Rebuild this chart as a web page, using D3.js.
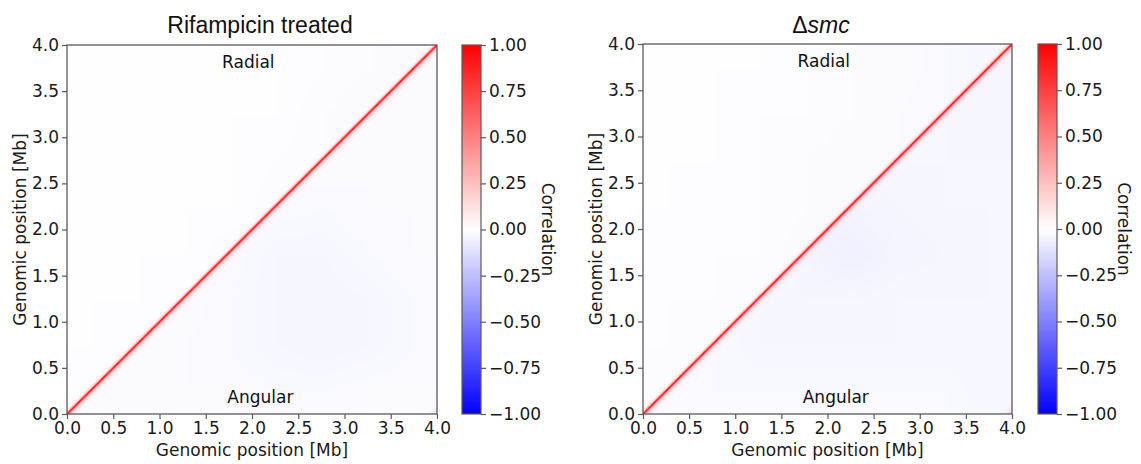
<!DOCTYPE html>
<html><head><meta charset="utf-8">
<script src="https://cdn.jsdelivr.net/npm/d3@7"></script>
<style>body{margin:0;background:#fff;} svg{display:block}</style>
</head><body>
<svg id="chart" width="1141" height="464"></svg>
<script>
// ---------- data ----------
const panelTitles = ["Rifampicin treated", "smc"];
const axisTicks = [0, 0.5, 1.0, 1.5, 2.0, 2.5, 3.0, 3.5, 4.0];
const cbTicks = [-1, -0.75, -0.5, -0.25, 0, 0.25, 0.5, 0.75, 1];
const genomeLength = 4.0;   // Mb
const binSize = 0.01;       // Mb per matrix bin

// correlation vs genomic separation (0.01 Mb steps)
const diagRadial  = [1.0, 0.66, 0.30, 0.14, 0.07, 0.04, 0.02, 0.01, 0];
const diagAngular = [1.0, 0.72, 0.40, 0.24, 0.16, 0.11, 0.08, 0.06, 0.045, 0.03, 0.02, 0.012, 0.006, 0];
// faint correlation across the origin (circular chromosome), 0.02 Mb steps
const wrapRifAngular = [0.16, 0.12, 0.08, 0.05, 0.03, 0.015, 0.006, 0];
const wrapRifRadial  = [0.0];
const wrapSmcAngular = [0.18, 0.13, 0.09, 0.06, 0.035, 0.018, 0.008, 0];
const wrapSmcRadial  = [0.06, 0.04, 0.02, 0.01, 0];

// background correlation per 0.5 Mb block: rows = y block (0..3.5 Mb), cols = x block
const rifAngular = [
  [-0.012,-0.015,-0.020,-0.020,-0.025,-0.025,-0.020,-0.020],
  [-0.010,-0.012,-0.020,-0.025,-0.030,-0.035,-0.030,-0.025],
  [-0.010,-0.012,-0.015,-0.025,-0.030,-0.035,-0.030,-0.025],
  [-0.010,-0.012,-0.015,-0.020,-0.030,-0.030,-0.025,-0.020],
  [-0.010,-0.012,-0.015,-0.018,-0.020,-0.025,-0.020,-0.020],
  [-0.010,-0.012,-0.015,-0.018,-0.018,-0.015,-0.020,-0.020],
  [-0.010,-0.012,-0.015,-0.018,-0.018,-0.015,-0.015,-0.020],
  [-0.010,-0.012,-0.015,-0.018,-0.018,-0.015,-0.015,-0.015]
];
const rifRadial = [
  [-0.008,-0.006,-0.005,-0.005,-0.005,-0.005,-0.005,-0.005],
  [-0.005,-0.008,-0.006,-0.005,-0.005,-0.005,-0.005,-0.005],
  [-0.005,-0.005,-0.008,-0.008,-0.006,-0.005,-0.005,-0.005],
  [-0.005,-0.005,-0.005,-0.010,-0.008,-0.006,-0.005,-0.005],
  [-0.005,-0.005,-0.005,-0.005,-0.010,-0.010,-0.008,-0.008],
  [-0.005,-0.005,-0.005,-0.005,-0.008,-0.012,-0.012,-0.012],
  [-0.005,-0.005,-0.005,-0.005,-0.005,-0.010,-0.015,-0.018],
  [-0.003,-0.003,-0.003,-0.005,-0.005,-0.008,-0.012,-0.020]
];
const smcAngular = [
  [-0.020,-0.025,-0.025,-0.025,-0.025,-0.025,-0.025,-0.030],
  [-0.020,-0.025,-0.030,-0.030,-0.030,-0.030,-0.030,-0.030],
  [-0.020,-0.025,-0.030,-0.035,-0.035,-0.030,-0.030,-0.030],
  [-0.020,-0.025,-0.030,-0.040,-0.055,-0.040,-0.035,-0.030],
  [-0.020,-0.025,-0.030,-0.040,-0.040,-0.035,-0.030,-0.030],
  [-0.020,-0.025,-0.030,-0.035,-0.035,-0.030,-0.030,-0.030],
  [-0.020,-0.025,-0.030,-0.030,-0.030,-0.030,-0.030,-0.035],
  [-0.020,-0.025,-0.030,-0.030,-0.030,-0.030,-0.030,-0.035]
];
const smcRadial = [
  [-0.010,-0.008,-0.006,-0.006,-0.006,-0.006,-0.006,-0.006],
  [-0.006,-0.010,-0.008,-0.006,-0.006,-0.006,-0.006,-0.006],
  [-0.006,-0.006,-0.012,-0.010,-0.008,-0.008,-0.008,-0.008],
  [-0.006,-0.006,-0.008,-0.015,-0.015,-0.012,-0.010,-0.010],
  [-0.005,-0.006,-0.008,-0.010,-0.018,-0.018,-0.015,-0.015],
  [-0.005,-0.005,-0.006,-0.010,-0.015,-0.020,-0.020,-0.022],
  [-0.004,-0.005,-0.006,-0.008,-0.012,-0.018,-0.025,-0.030],
  [-0.004,-0.004,-0.005,-0.006,-0.010,-0.015,-0.025,-0.030]
];

const panelData = [
  {radial: rifRadial, angular: rifAngular, wrapR: wrapRifRadial, wrapA: wrapRifAngular},
  {radial: smcRadial, angular: smcAngular, wrapR: wrapSmcRadial, wrapA: wrapSmcAngular}
];

// ---------- layout ----------
const layouts = [
  {x0: 67,  x1: 437,  yTop: 45, yBot: 414, cb0: 462,  cb1: 481,  titleX: 260},
  {x0: 643, x1: 1012, yTop: 44, yBot: 414, cb0: 1038, cb1: 1057, titleX: 821}
];

const svg = d3.select("#chart");
const FONT = "DejaVu Sans, sans-serif";
const TXT = "#1a1a1a";
const SPINE = "#5a5a5a";
const color = d3.scaleLinear().domain([-1, 0, 1]).range(["#0000ff", "#ffffff", "#ff0000"]).clamp(true);

const defs = svg.append("defs");
const grad = defs.append("linearGradient").attr("id", "cbgrad")
  .attr("x1", 0).attr("y1", 1).attr("x2", 0).attr("y2", 0);
d3.range(0, 1.0001, 0.125).forEach(t => {
  grad.append("stop").attr("offset", t).attr("stop-color", color(-1 + 2 * t));
});

const N = Math.round(genomeLength / binSize);

// background blocks as a small image (browser smooths it when scaled)
function blockImage(grid) {
  const n = grid.length;
  const cv = document.createElement("canvas");
  cv.width = n; cv.height = n;
  const ctx = cv.getContext("2d");
  const img = ctx.createImageData(n, n);
  for (let r = 0; r < n; r++) {
    for (let c = 0; c < n; c++) {
      const col = d3.rgb(color(grid[n - 1 - r][c]));
      const k = (r * n + c) * 4;
      img.data[k] = col.r; img.data[k + 1] = col.g; img.data[k + 2] = col.b; img.data[k + 3] = 255;
    }
  }
  ctx.putImageData(img, 0, 0);
  return cv.toDataURL();
}

// positive correlation near the diagonal (and across the origin) as red with alpha = value
function diagImage(pd) {
  const cv = document.createElement("canvas");
  cv.width = N; cv.height = N;
  const ctx = cv.getContext("2d");
  const img = ctx.createImageData(N, N);
  for (let r = 0; r < N; r++) {
    const j = N - 1 - r;
    for (let i = 0; i < N; i++) {
      const upper = j > i;
      const d = Math.abs(i - j);
      const prof = upper ? diagRadial : diagAngular;
      const wrap = upper ? pd.wrapR : pd.wrapA;
      let v = 0;
      if (d < prof.length) v += prof[d];
      const w = Math.floor((N - d) / 2);
      if (w < wrap.length) v += wrap[w];
      v = Math.min(1, v);
      const k = (r * N + i) * 4;
      img.data[k] = 255; img.data[k + 1] = 0; img.data[k + 2] = 0; img.data[k + 3] = Math.round(v * 255);
    }
  }
  ctx.putImageData(img, 0, 0);
  return cv.toDataURL();
}

layouts.forEach((L, p) => {
  const x = d3.scaleLinear().domain([0, genomeLength]).range([L.x0, L.x1]);
  const y = d3.scaleLinear().domain([0, genomeLength]).range([L.yBot, L.yTop]);
  const g = svg.append("g");
  const pd = panelData[p];
  const W = x(genomeLength) - x(0), H = y(0) - y(genomeLength);

  const lowerId = "lower" + p, upperId = "upper" + p;
  defs.append("clipPath").attr("id", lowerId).append("path")
    .attr("d", `M${x(0)},${y(0)}L${x(genomeLength)},${y(genomeLength)}L${x(genomeLength)},${y(0)}Z`);
  defs.append("clipPath").attr("id", upperId).append("path")
    .attr("d", `M${x(0)},${y(0)}L${x(genomeLength)},${y(genomeLength)}L${x(0)},${y(genomeLength)}Z`);

  g.append("image").attr("href", blockImage(pd.angular))
    .attr("x", x(0)).attr("y", y(genomeLength)).attr("width", W).attr("height", H)
    .attr("preserveAspectRatio", "none").attr("clip-path", `url(#${lowerId})`);
  g.append("image").attr("href", blockImage(pd.radial))
    .attr("x", x(0)).attr("y", y(genomeLength)).attr("width", W).attr("height", H)
    .attr("preserveAspectRatio", "none").attr("clip-path", `url(#${upperId})`);
  g.append("image").attr("href", diagImage(pd))
    .attr("x", x(0)).attr("y", y(genomeLength)).attr("width", W).attr("height", H)
    .attr("preserveAspectRatio", "none");

  g.append("rect")
    .attr("x", x(0)).attr("y", y(genomeLength)).attr("width", W).attr("height", H)
    .attr("fill", "none").attr("stroke", SPINE).attr("stroke-width", 1.3);

  const fmt = d3.format(".1f");
  const xa = g.append("g").attr("transform", `translate(0,${L.yBot})`)
    .call(d3.axisBottom(x).tickValues(axisTicks).tickFormat(fmt).tickSize(5).tickSizeOuter(0).tickPadding(3));
  const ya = g.append("g").attr("transform", `translate(${L.x0},0)`)
    .call(d3.axisLeft(y).tickValues(axisTicks).tickFormat(fmt).tickSize(5).tickSizeOuter(0).tickPadding(3));
  [xa, ya].forEach(a => {
    a.select(".domain").remove();
    a.selectAll("line").attr("stroke", SPINE).attr("stroke-width", 1.2);
    a.selectAll("text").attr("fill", TXT).style("font-family", FONT).style("font-size", "17px");
  });

  // axis titles
  g.append("text").attr("x", (L.x0 + L.x1) / 2).attr("y", L.yBot + 42)
    .attr("text-anchor", "middle").attr("fill", TXT)
    .style("font-family", FONT).style("font-size", "17px").text("Genomic position [Mb]");
  g.append("text")
    .attr("transform", `translate(${L.x0 - 47},${(L.yTop + L.yBot) / 2}) rotate(-90)`)
    .attr("text-anchor", "middle").attr("dominant-baseline", "central").attr("fill", TXT)
    .style("font-family", FONT).style("font-size", "17px").text("Genomic position [Mb]");

  // in-plot labels
  g.append("text").attr("x", x(1.96)).attr("y", y(3.75)).attr("text-anchor", "middle")
    .attr("fill", "#111").style("font-family", FONT).style("font-size", "17px").text("Radial");
  g.append("text").attr("x", x(2.09)).attr("y", y(0.116)).attr("text-anchor", "middle")
    .attr("fill", "#111").style("font-family", FONT).style("font-size", "17px").text("Angular");

  // title
  const t = g.append("text").attr("x", L.titleX).attr("y", 33).attr("text-anchor", "middle")
    .attr("fill", "#111").style("font-family", "Liberation Sans, Arial, sans-serif").style("font-size", "23px");
  if (p === 0) {
    t.text(panelTitles[0]);
  } else {
    t.append("tspan").text("Δ");
    t.append("tspan").style("font-style", "italic").text(panelTitles[1]);
  }

  // colorbar
  const cy = d3.scaleLinear().domain([-1, 1]).range([L.yBot, L.yTop]);
  g.append("rect").attr("x", L.cb0).attr("y", cy(1))
    .attr("width", L.cb1 - L.cb0).attr("height", cy(-1) - cy(1))
    .attr("fill", "url(#cbgrad)").attr("stroke", SPINE).attr("stroke-width", 1.2);
  const ca = g.append("g").attr("transform", `translate(${L.cb1},0)`)
    .call(d3.axisRight(cy).tickValues(cbTicks).tickFormat(d3.format(".2f")).tickSize(5).tickSizeOuter(0).tickPadding(3));
  ca.select(".domain").remove();
  ca.selectAll("line").attr("stroke", SPINE).attr("stroke-width", 1.2);
  ca.selectAll("text").attr("fill", TXT).style("font-family", FONT).style("font-size", "17px");

  g.append("text")
    .attr("transform", `translate(${L.cb1 + 67},${(L.yTop + L.yBot) / 2}) rotate(90)`)
    .attr("text-anchor", "middle").attr("dominant-baseline", "central").attr("fill", TXT)
    .style("font-family", FONT).style("font-size", "17px").text("Correlation");
});
</script>
</body></html>
